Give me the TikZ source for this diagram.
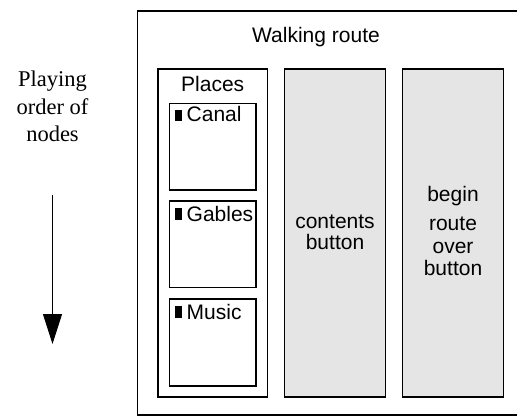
\documentclass[tikz,border=0pt]{standalone}
\usepackage{fontspec}
\setmainfont{Liberation Serif}
\setsansfont{Liberation Sans}
\usetikzlibrary{arrows.meta}
\begin{document}
\begin{tikzpicture}[x=1pt,y=-1pt,
  box/.style={draw=black,line width=1.3pt},
  graybox/.style={box,fill=black!10},
  lbl/.style={font=\sffamily\fontsize{21}{22}\selectfont,anchor=base,inner sep=0pt},
  side/.style={font=\rmfamily\fontsize{22.5}{26}\selectfont,anchor=base,inner sep=0pt},
  marker/.style={fill=black,draw=none}]
\useasboundingbox (0,0) rectangle (517,416);
% outer box (right side runs off the picture)
\draw[box] (530,11) -- (137.5,11) -- (137.5,415) -- (530,415);
\node[lbl] (title) at (316,42.3) {Walking route};
% Places column
\draw[box] (158,69) rectangle (267.5,397) coordinate (placesbr);
\node[lbl] (places) at (212.7,91.7) {Places};
\draw[box] (169.5,103.5) rectangle (256,190);
\draw[box] (169.5,201) rectangle (256,287.5);
\draw[box] (169.5,299) rectangle (256,386);
\fill[marker] (175,110) rectangle (181.5,121);
\fill[marker] (175,208) rectangle (181.5,219.5);
\fill[marker] (175,306) rectangle (181.5,317.5);
\node[lbl,anchor=base west] (canal) at (186.5,121.5) {Canal};
\node[lbl,anchor=base west] (gables) at (186.5,221.5) {Gables};
\node[lbl,anchor=base west] (music) at (186.5,319.8) {Music};
% contents button column
\draw[graybox] (284.5,69) rectangle (385.5,397);
\node[lbl] (contents) at (335,228.3) {contents};
\node[lbl] (button1) at (335,249) {button};
% begin route over button column
\draw[graybox] (402.5,69) rectangle (503.5,397);
\node[lbl] (begin) at (453,201.7) {begin};
\node[lbl] (route) at (453,230.5) {route};
\node[lbl] (over) at (453,253.8) {over};
\node[lbl] (button2) at (453,275) {button};
% side label and arrow
\node[side] (playing) at (52.5,86.5) {Playing};
\node[side] (orderof) at (52.5,114) {order of};
\node[side] (nodes) at (52.5,141.5) {nodes};
\coordinate (atop) at (52.5,195);
\coordinate (abot) at (52.5,344);
\draw[line width=1pt,-{Triangle[length=30pt,width=19pt]}] (atop) -- (abot);
\end{tikzpicture}
\end{document}
